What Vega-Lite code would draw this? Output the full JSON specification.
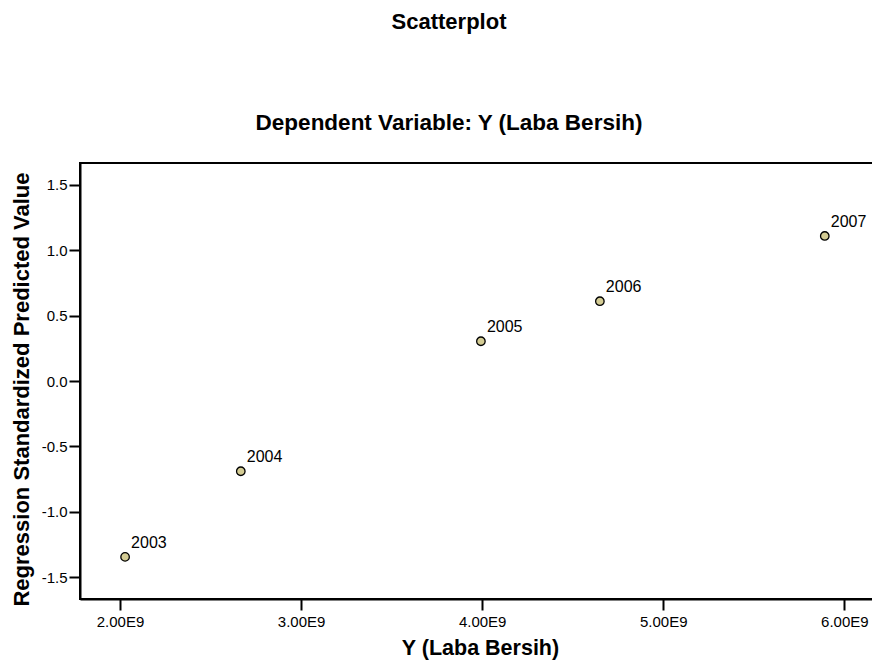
{
  "$schema": "https://vega.github.io/schema/vega-lite/v6.json",
  "autosize": {"type": "none"},
  "padding": {"left": 80, "top": 163, "right": 0, "bottom": 61},
  "width": 800,
  "height": 436,
  "background": "white",
  "title": {
    "text": "Scatterplot",
    "subtitle": "Dependent Variable: Y (Laba Bersih)",
    "anchor": "middle",
    "dx": -31,
    "font": "Liberation Sans",
    "fontSize": 22,
    "fontWeight": "bold",
    "color": "black",
    "subtitleFont": "Liberation Sans",
    "subtitleFontSize": 22.5,
    "subtitleFontWeight": "bold",
    "subtitleColor": "black",
    "subtitlePadding": 78,
    "offset": 28
  },
  "config": {
    "view": {"stroke": "black", "strokeWidth": 2},
    "axis": {
      "grid": false,
      "domainColor": "black",
      "domainWidth": 2,
      "tickColor": "black",
      "tickWidth": 2,
      "tickSize": 11,
      "labelFont": "Liberation Sans",
      "labelFontSize": 15,
      "labelColor": "black",
      "titleFont": "Liberation Sans",
      "titleFontWeight": "bold",
      "titleColor": "black"
    }
  },
  "data": {
    "values": [
      {"year": "2003", "laba": 2028000000, "zpred": -1.345},
      {"year": "2004", "laba": 2667000000, "zpred": -0.690},
      {"year": "2005", "laba": 3993000000, "zpred": 0.304},
      {"year": "2006", "laba": 4650000000, "zpred": 0.610},
      {"year": "2007", "laba": 5892000000, "zpred": 1.109}
    ]
  },
  "encoding": {
    "x": {
      "field": "laba",
      "type": "quantitative",
      "scale": {"domain": [1779000000, 6197000000], "nice": false, "zero": false},
      "axis": {
        "title": "Y (Laba Bersih)",
        "titleFontSize": 21.5,
        "titlePadding": 8,
        "values": [2000000000, 3000000000, 4000000000, 5000000000, 6000000000],
        "labelExpr": "replace(format(datum.value, '.2e'), 'e+', 'E')",
        "labelPadding": 4
      }
    },
    "y": {
      "field": "zpred",
      "type": "quantitative",
      "scale": {"domain": [-1.667, 1.667], "nice": false, "zero": false},
      "axis": {
        "title": "Regression Standardized Predicted Value",
        "titleFontSize": 22,
        "titlePadding": 8,
        "titleY": 226,
        "values": [-1.5, -1, -0.5, 0, 0.5, 1, 1.5],
        "labelExpr": "replace(format(datum.value, '.1f'), '\u2212', '-')",
        "labelPadding": 2
      }
    }
  },
  "layer": [
    {
      "mark": {"type": "point", "filled": true, "fill": "#d4cc94", "stroke": "black", "strokeWidth": 1.3, "size": 72, "opacity": 1}
    },
    {
      "mark": {"type": "text", "align": "left", "baseline": "alphabetic", "dx": 6, "dy": -9, "font": "Liberation Sans", "fontSize": 16, "color": "black"},
      "encoding": {"text": {"field": "year"}}
    }
  ]
}
